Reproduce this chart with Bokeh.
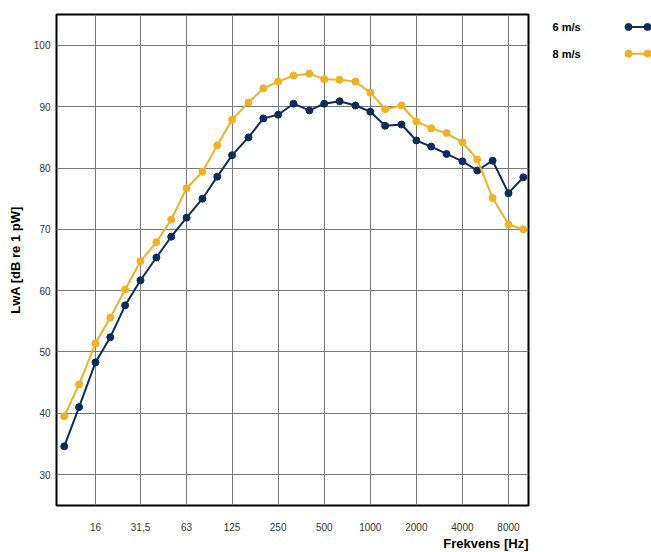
from bokeh.plotting import figure
from bokeh.models import FixedTicker, Range1d, Title, ColumnDataSource
from bokeh.layouts import row
from bokeh.core.properties import value
from bokeh.embed import file_html
from bokeh.resources import INLINE

# ---- data ----
freqs = [10, 12.5, 16, 20, 25, 31.5, 40, 50, 63, 80, 100, 125, 160, 200, 250, 315,
         400, 500, 630, 800, 1000, 1250, 1600, 2000, 2500, 3150, 4000, 5000, 6300,
         8000, 10000]
lwa_6 = [34.6, 41.0, 48.3, 52.4, 57.6, 61.7, 65.4, 68.8, 71.9, 75.0, 78.6, 82.1,
         85.0, 88.1, 88.7, 90.5, 89.4, 90.5, 90.9, 90.2, 89.2, 86.9, 87.1, 84.5,
         83.5, 82.3, 81.1, 79.6, 81.2, 75.9, 78.5]
lwa_8 = [39.5, 44.7, 51.4, 55.6, 60.2, 64.8, 67.9, 71.6, 76.7, 79.4, 83.7, 87.9,
         90.7, 93.0, 94.1, 95.1, 95.4, 94.5, 94.4, 94.1, 92.3, 89.6, 90.2, 87.6,
         86.5, 85.7, 84.2, 81.4, 75.1, 70.8, 70.0]
series_names = ["6 m/s", "8 m/s"]
series_colors = ["#0c2c5c", "#f0b21e"]
x_ticks = [16, 31.5, 63, 125, 250, 500, 1000, 2000, 4000, 8000]
x_tick_labels = ["16", "31,5", "63", "125", "250", "500", "1000", "2000", "4000", "8000"]
y_ticks = [30, 40, 50, 60, 70, 80, 90, 100]
x_title = "Frekvens [Hz]"
y_title = "LwA [dB re 1 pW]"

FONT = "Liberation Sans"
x_start, x_end = 8.9, 10810
y_start, y_end = 24.95, 105.05

p = figure(width=548, height=552, x_axis_type="log",
           x_range=Range1d(x_start, x_end), y_range=Range1d(y_start, y_end),
           output_backend="svg", toolbar_location=None,
           min_border_left=56, min_border_right=20, min_border_top=14,
           min_border_bottom=47)

for vals, color in zip([lwa_6, lwa_8], series_colors):
    src = ColumnDataSource(dict(f=freqs, v=vals))
    p.line("f", "v", source=src, line_color=color, line_width=2)
    p.scatter("f", "v", source=src, size=7, fill_color=color, line_color=color)

p.outline_line_color = "black"
p.outline_line_width = 2
p.background_fill_color = "white"
p.border_fill_color = "white"

p.xaxis.ticker = FixedTicker(ticks=x_ticks)
p.xaxis.major_label_overrides = {t: l for t, l in zip(x_ticks, x_tick_labels)}
p.yaxis.ticker = FixedTicker(ticks=y_ticks)
p.xgrid.ticker = FixedTicker(ticks=x_ticks)
p.ygrid.ticker = FixedTicker(ticks=y_ticks)

for ax in (p.xaxis[0], p.yaxis[0]):
    ax.axis_line_color = None
    ax.major_tick_line_color = None
    ax.minor_tick_line_color = None
    ax.major_tick_out = 0
    ax.major_tick_in = 0
    ax.minor_tick_out = 0
    ax.major_label_text_font = FONT
    ax.major_label_text_font_size = "10px"
    ax.major_label_text_color = "#333333"

p.xaxis.major_label_standoff = 17
p.yaxis.major_label_standoff = 6
p.yaxis.axis_label = y_title
p.yaxis.axis_label_text_font = FONT
p.yaxis.axis_label_text_font_size = "13px"
p.yaxis.axis_label_text_font_style = "bold"
p.yaxis.axis_label_text_color = "black"
p.yaxis.axis_label_standoff = 8

for g in (p.xgrid[0], p.ygrid[0]):
    g.grid_line_color = "#7a7a7a"
    g.grid_line_width = 1
    g.grid_line_alpha = 1.0

p.add_layout(Title(text=x_title, align="right", standoff=0,
                   text_font=FONT, text_font_size="13px",
                   text_font_style="bold", text_color="black"), "below")

# ---- legend panel ----
leg_w, leg_h = 103, 552
leg = figure(width=leg_w, height=leg_h, x_range=Range1d(0, leg_w),
             y_range=Range1d(leg_h, 0), output_backend="svg",
             toolbar_location=None, min_border=0)
leg.axis.visible = False
leg.grid.visible = False
leg.outline_line_color = None
row_y = [14, 44]
for name, color, yy in zip(series_names, series_colors, row_y):
    leg.text(x=[4], y=[yy], text=[name], text_font=value(FONT),
             text_font_size="11px", text_font_style="bold",
             text_color="black", text_baseline="middle", text_align="left")
    leg.line(x=[80, 99], y=[yy, yy], line_color=color, line_width=2)
    leg.scatter(x=[80, 99], y=[yy, yy], size=7, fill_color=color, line_color=color)

layout = row(p, leg)
open("out.html", "w").write(file_html(layout, INLINE))
